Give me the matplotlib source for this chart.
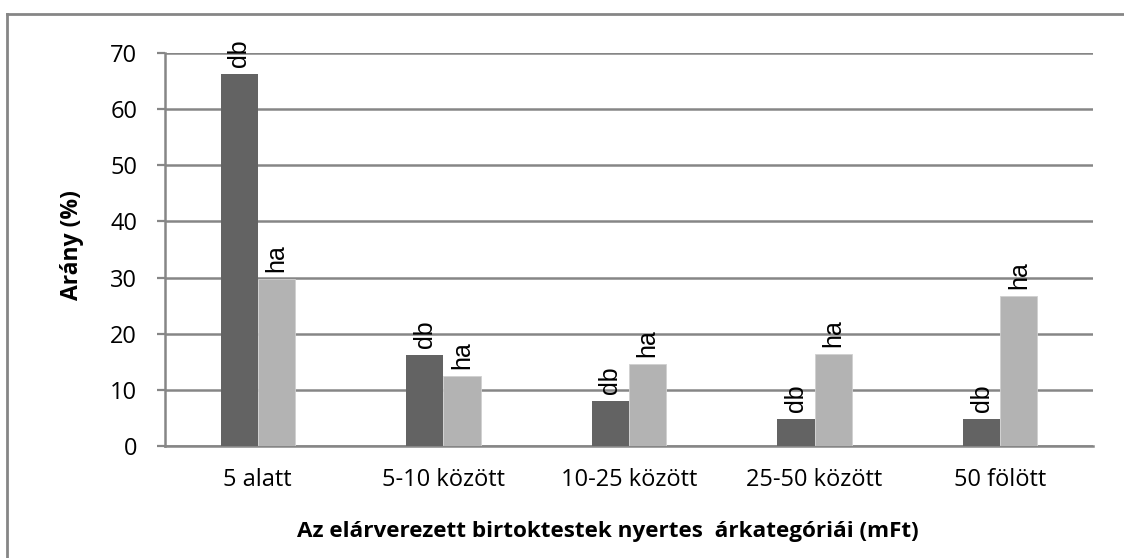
import matplotlib.pyplot as plt
import numpy as np

categories = ["5 alatt", "5-10 között", "10-25 között", "25-50 között", "50 fölött"]
db_values = [66.2, 16.2, 8.0, 4.8, 4.8]
ha_values = [29.7, 12.4, 14.6, 16.4, 26.8]
series_labels = ["db", "ha"]

dark = "#636363"
light = "#b3b3b3"
grid_col = "#868686"

fig = plt.figure(figsize=(11.24, 5.58), dpi=100)
ax = fig.add_axes([165 / 1124, 1 - 446 / 558, 928 / 1124, 393 / 558])

x = np.arange(len(categories))
w = 0.2
b1 = ax.bar(x - w / 2, db_values, w, color=dark, zorder=3)
b2 = ax.bar(x + w / 2, ha_values, w, color=light, edgecolor="#d0d0d0", linewidth=0.6, zorder=3)

for bars, lab in zip([b1, b2], series_labels):
    for r in bars:
        ax.annotate(lab, (r.get_x() + r.get_width() / 2, r.get_height()),
                    xytext=(0, 5), textcoords="offset points",
                    rotation=90, ha="center", va="bottom",
                    fontsize=18, family="Liberation Sans", zorder=4)

ax.set_xlim(-0.5, len(categories) - 0.5)
ax.set_ylim(0, 70)
ax.set_yticks(np.arange(0, 71, 10))
ax.set_xticks(x)
ax.set_xticklabels(categories, fontsize=17, family="Open Sans")
for t in ax.get_yticklabels():
    t.set_fontsize(17)
    t.set_family("Open Sans")

ax.yaxis.grid(True, color=grid_col, linewidth=1.8, zorder=0)
ax.tick_params(axis="y", length=6, width=1.6, color=grid_col, pad=14)
ax.tick_params(axis="x", length=0, pad=16)
for s in ["top", "right"]:
    ax.spines[s].set_visible(False)
ax.spines["left"].set_color(grid_col)
ax.spines["left"].set_linewidth(1.8)
ax.spines["bottom"].set_color(grid_col)
ax.spines["bottom"].set_linewidth(1.8)

fig.text(72 / 1124, 1 - 245 / 558, "Arány (%)", rotation=90, ha="center", va="center",
         fontsize=16.5, fontweight="bold", family="Open Sans")
fig.text(608 / 1124, 1 - 532 / 558, "Az elárverezett birtoktestek nyertes  árkategóriái (mFt)",
         ha="center", va="center", fontsize=16.2, fontweight="bold", family="Open Sans")

# outer chart border (only top and left visible in the crop)
fig.add_artist(plt.Line2D([7 / 1124, 1.0], [1 - 14 / 558, 1 - 14 / 558], transform=fig.transFigure,
                          color=grid_col, linewidth=2))
fig.add_artist(plt.Line2D([7 / 1124, 7 / 1124], [0, 1 - 14 / 558], transform=fig.transFigure,
                          color=grid_col, linewidth=2))

fig.savefig("out.png", dpi=100)
